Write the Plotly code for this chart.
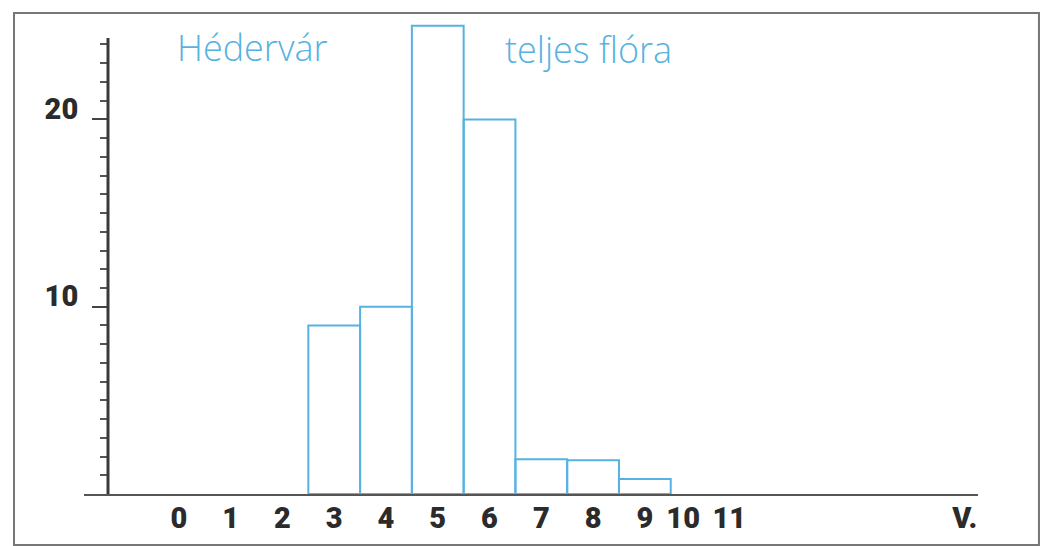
import plotly.graph_objects as go

# species counts per class
classes = [3, 4, 5, 6, 7, 8, 9]
counts = [9, 10, 25, 20, 1.85, 1.8, 0.8]

# x tick labels (10 and 11 are squeezed in the original)
x_tickvals = [0, 1, 2, 3, 4, 5, 6, 7, 8, 9, 9.74, 10.63, 15.18]
x_ticktext = ["0", "1", "2", "3", "4", "5", "6", "7", "8", "9", "10", "11", "V."]

y_tickvals = [10, 20]
y_ticktext = ["10", "20"]
y_minor = [v for v in range(1, 25) if v not in y_tickvals]
y_axis_top = 24.35

blue = "#55b2e2"
dark = "#2b2b2b"
label_font = dict(family="Roboto, sans-serif", size=29, color=dark, weight=900)

fig = go.Figure()
fig.add_trace(go.Bar(
    x=classes, y=counts, width=1,
    marker=dict(color="rgba(255,255,255,0)", line=dict(color=blue, width=2)),
    hoverinfo="x+y",
))

fig.update_layout(
    width=1042, height=546,
    margin=dict(l=84, r=64, t=16, b=52),
    paper_bgcolor="white", plot_bgcolor="white",
    showlegend=False,
    xaxis=dict(
        range=[-1.833, 15.435], automargin=False,
        showgrid=False, zeroline=False,
        showline=True, linecolor="#555", linewidth=2,
        tickmode="array", tickvals=x_tickvals, ticktext=x_ticktext,
        ticks="", tickfont=label_font, ticklabelstandoff=-3,
    ),
    yaxis=dict(
        range=[0, 25.52], automargin=False,
        anchor="free", position=0.02685,
        showgrid=False, zeroline=False, showline=False,
        tickmode="array", tickvals=y_tickvals, ticktext=y_ticktext,
        ticks="outside", ticklen=16, tickwidth=2, tickcolor="#444",
        tickfont=label_font, ticklabelstandoff=8, ticklabelshift=-11,
        minor=dict(tickmode="array", tickvals=y_minor, ticks="outside",
                   ticklen=8, tickwidth=2, tickcolor="#555"),
    ),
)

# y axis line stops below the tallest bar
fig.add_shape(type="line", xref="paper", yref="y", x0=0.02685, x1=0.02685,
              y0=0, y1=y_axis_top, line=dict(color="#3a3a3a", width=3))

# frame of the scanned figure
fig.add_shape(type="rect", xref="paper", yref="paper",
              x0=-0.0783, x1=1.0682, y0=-0.1067, y1=1.0063,
              line=dict(color="#777", width=2), layer="above")

title_font = dict(family="Open Sans, Noto Sans, sans-serif", size=36, color=blue, weight=300)
fig.add_annotation(text="Hédervár", xref="paper", yref="paper", x=0.1018, y=0.935,
                   xanchor="left", yanchor="middle", showarrow=False, font=title_font)
fig.add_annotation(text="teljes flóra", xref="paper", yref="paper", x=0.4687, y=0.93,
                   xanchor="left", yanchor="middle", showarrow=False, font=title_font)

fig.write_html("out.html", config={"displayModeBar": False},
               post_script="document.body.style.margin='0px';")
